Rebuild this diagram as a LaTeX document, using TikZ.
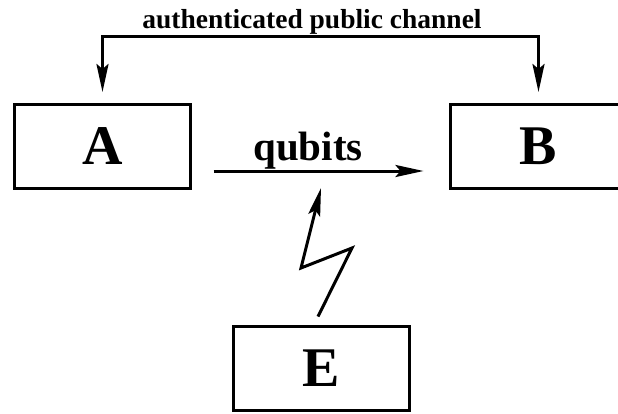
\documentclass[tikz,border=0pt]{standalone}
\usepackage{fontspec}
\setmainfont{Liberation Serif}
\usetikzlibrary{arrows.meta}

\begin{document}
\begin{tikzpicture}[x=1pt,y=-1pt, party/.style={draw,line width=3pt,minimum width=176pt,minimum height=84pt,inner sep=0pt,font=\bfseries\fontsize{56}{56}\selectfont}, link/.style={line width=3pt,-{Stealth[length=28pt,width=12pt,inset=5pt]}}, >={Stealth[length=28pt,width=12pt,inset=5pt]}]
\useasboundingbox (0,0) rectangle (618,413);
\node[party] (A) at (102.5,146.5) {A};
\node[party] (B) at (538.5,146.5) {B};
\node[party] (E) at (321.5,368) {E};
\node[anchor=base,font=\bfseries\fontsize{27.5}{27.5}\selectfont] (chan) at (312,28) {authenticated public channel};
\node[anchor=base,font=\bfseries\fontsize{41}{41}\selectfont] (qb) at (308,160) {qubits};
\coordinate (top) at (0,36);
\coordinate (zap1) at (352,248);
\coordinate (zap2) at (301,268);
\coordinate (hit) at (321,188);
\draw[line width=3pt,<->,shorten <=11pt,shorten >=11pt] (A.north) -- (A.north |- top) -- (B.north |- top) -- (B.north);
\draw[link,shorten <=21.5pt,shorten >=25.5pt] ([yshift=-24.5pt]A.east) -- ([yshift=-24.5pt]B.west);
\draw[link] ([xshift=-3.5pt,yshift=8pt]E.north) -- (zap1) -- (zap2) -- (hit);
\end{tikzpicture}
\end{document}
